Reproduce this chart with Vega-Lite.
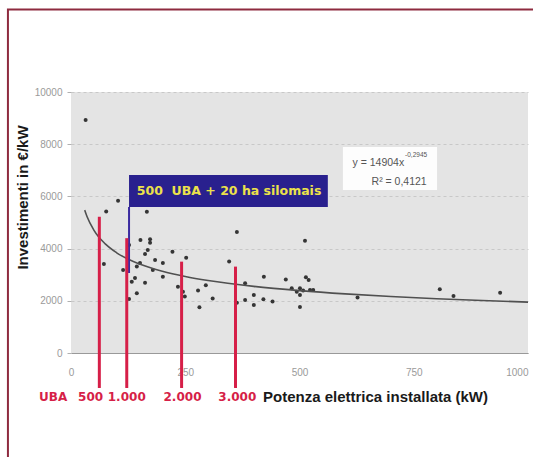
{
  "$schema": "https://vega.github.io/schema/vega-lite/v6.json",
  "width": 457,
  "height": 261,
  "autosize": {"type": "none"},
  "padding": {"left": 71, "top": 92, "right": 5, "bottom": 104},
  "background": "white",
  "config": {
    "view": {"fill": "#e4e4e4", "stroke": null},
    "font": "Liberation Sans"
  },
  "datasets": {
    "frame": [{"x": -138, "x2": 1200, "y": 13160, "y2": -6000}],
    "points": [
      {"x": 32, "y": 8930}, {"x": 77, "y": 5420}, {"x": 103, "y": 5830}, {"x": 166, "y": 5410},
      {"x": 127, "y": 4140}, {"x": 152, "y": 4330}, {"x": 173, "y": 4360}, {"x": 173, "y": 4220},
      {"x": 168, "y": 3950}, {"x": 162, "y": 3790}, {"x": 222, "y": 3880}, {"x": 252, "y": 3650},
      {"x": 184, "y": 3560}, {"x": 151, "y": 3450}, {"x": 201, "y": 3450}, {"x": 179, "y": 3180},
      {"x": 144, "y": 3310}, {"x": 114, "y": 3180}, {"x": 72, "y": 3410}, {"x": 201, "y": 2925},
      {"x": 140, "y": 2870}, {"x": 133, "y": 2730}, {"x": 162, "y": 2690}, {"x": 234, "y": 2540},
      {"x": 245, "y": 2350}, {"x": 249, "y": 2160}, {"x": 144, "y": 2290}, {"x": 127, "y": 2070},
      {"x": 278, "y": 2390}, {"x": 363, "y": 4640}, {"x": 512, "y": 4300}, {"x": 346, "y": 3510},
      {"x": 422, "y": 2925}, {"x": 470, "y": 2820}, {"x": 514, "y": 2900}, {"x": 520, "y": 2800},
      {"x": 381, "y": 2670}, {"x": 295, "y": 2600}, {"x": 310, "y": 2090}, {"x": 281, "y": 1750},
      {"x": 400, "y": 2220}, {"x": 381, "y": 2030}, {"x": 400, "y": 1840}, {"x": 421, "y": 2055},
      {"x": 441, "y": 1970}, {"x": 483, "y": 2480}, {"x": 501, "y": 2480}, {"x": 508, "y": 2390},
      {"x": 501, "y": 2220}, {"x": 523, "y": 2410}, {"x": 494, "y": 2350}, {"x": 501, "y": 1760},
      {"x": 627, "y": 2130}, {"x": 807, "y": 2440}, {"x": 837, "y": 2180}, {"x": 939, "y": 2310},
      {"x": 363, "y": 1930}, {"x": 530, "y": 2410}
    ],
    "curve": [
      {"x": 30, "y": 5474}, {"x": 35, "y": 5231}, {"x": 50, "y": 4710}, {"x": 75, "y": 4179},
      {"x": 100, "y": 3839}, {"x": 150, "y": 3407}, {"x": 200, "y": 3131}, {"x": 250, "y": 2932},
      {"x": 300, "y": 2778}, {"x": 400, "y": 2553}, {"x": 500, "y": 2391}, {"x": 600, "y": 2265},
      {"x": 700, "y": 2165}, {"x": 800, "y": 2081}, {"x": 900, "y": 2010}, {"x": 1000, "y": 1950}
    ],
    "redlines": [
      {"x": 62, "y": 5220, "y2": -1340}, {"x": 122, "y": 4400, "y2": -1340},
      {"x": 242, "y": 3500, "y2": -1340}, {"x": 360, "y": 3310, "y2": -1340}
    ],
    "redlabels": [
      {"x": -39, "y": -1674, "label": "UBA"}, {"x": 43, "y": -1674, "label": "500"},
      {"x": 122, "y": -1674, "label": "1.000"}, {"x": 244, "y": -1674, "label": "2.000"},
      {"x": 364, "y": -1674, "label": "3.000"}
    ],
    "blueline": [{"x": 127, "y": 5594, "y2": 3065}],
    "bluebox": [{"x": 127, "x2": 562, "y": 6820, "y2": 5594}],
    "boxtext": [{"x": 144, "y": 6207, "label": "500\u00a0\u00a0UBA + 20 ha silomais"}],
    "eqbox": [{"x": 595, "x2": 801, "y": 7893, "y2": 6245}],
    "eqline1": [{"x": 729, "y": 7280, "label": "y = 14904x"}],
    "eqsup": [{"x": 731, "y": 7586, "label": "-0,2945"}],
    "eqline2": [{"x": 718, "y": 6552, "label": "R² = 0,4121"}]
  },
  "encoding": {
    "x": {
      "field": "x", "type": "quantitative",
      "scale": {"domain": [0, 1000], "nice": false, "zero": false},
      "axis": {
        "values": [0, 250, 500, 750, 1000],
        "format": "d",
        "title": "Potenza elettrica installata (kW)",
        "titleFont": "Liberation Sans", "titleFontSize": 15, "titleFontWeight": "bold", "titleColor": "#1a1a1a",
        "titleX": 304, "titleY": 43, "titleBaseline": "middle", "titleAlign": "center", "titleAnchor": null,
        "labelFont": "Liberation Sans", "labelFontSize": 10, "labelColor": "#9a9a9a",
        "labelPadding": 14, "ticks": false, "grid": false,
        "labelAlign": {"condition": {"test": "datum.value == 1000", "value": "right"}, "value": "center"},
        "labelFlush": false,
        "domainColor": "#999999"
      }
    },
    "y": {
      "field": "y", "type": "quantitative",
      "scale": {"domain": [0, 10000], "nice": false, "zero": false},
      "axis": {
        "values": [0, 2000, 4000, 6000, 8000, 10000],
        "format": "d",
        "title": "Investimenti in €/kW",
        "titleFont": "Liberation Sans", "titleFontSize": 15, "titleFontWeight": "bold", "titleColor": "#1a1a1a",
        "titleX": -49, "titleY": 105, "titleAngle": -90, "titleBaseline": "middle", "titleAlign": "center", "titleAnchor": null,
        "labelFont": "Liberation Sans", "labelFontSize": 10, "labelColor": "#9a9a9a",
        "labelPadding": 5, "tickSize": 4, "tickColor": "#b0b0b0",
        "domain": false, "grid": true, "gridColor": "#c8c8c8", "gridDash": [3, 3], "gridWidth": 1
      }
    }
  },
  "layer": [
    {
      "data": {"name": "frame"},
      "mark": {"type": "rect", "fill": null, "stroke": "#8e2b3f", "strokeWidth": 2},
      "encoding": {"x2": {"field": "x2"}, "y2": {"field": "y2"}}
    },
    {
      "data": {"name": "points"},
      "mark": {"type": "circle", "color": "#353535", "size": 16, "opacity": 1}
    },
    {
      "data": {"name": "curve"},
      "mark": {"type": "line", "color": "#505050", "strokeWidth": 1.6, "interpolate": "monotone"}
    },
    {
      "data": {"name": "eqbox"},
      "mark": {"type": "rect", "fill": "#ffffff", "opacity": 0.92},
      "encoding": {"x2": {"field": "x2"}, "y2": {"field": "y2"}}
    },
    {
      "data": {"name": "eqline1"},
      "mark": {"type": "text", "align": "right", "baseline": "middle", "font": "Liberation Sans", "fontSize": 10.5, "color": "#555555"},
      "encoding": {"text": {"field": "label"}}
    },
    {
      "data": {"name": "eqsup"},
      "mark": {"type": "text", "align": "left", "baseline": "middle", "font": "Liberation Sans", "fontSize": 6.5, "color": "#555555"},
      "encoding": {"text": {"field": "label"}}
    },
    {
      "data": {"name": "eqline2"},
      "mark": {"type": "text", "align": "center", "baseline": "middle", "font": "Liberation Sans", "fontSize": 10.5, "color": "#555555"},
      "encoding": {"text": {"field": "label"}}
    },
    {
      "data": {"name": "blueline"},
      "mark": {"type": "rule", "color": "#3a2aa0", "strokeWidth": 2},
      "encoding": {"y2": {"field": "y2"}}
    },
    {
      "data": {"name": "redlines"},
      "mark": {"type": "rule", "color": "#d61f48", "strokeWidth": 3},
      "encoding": {"y2": {"field": "y2"}}
    },
    {
      "data": {"name": "bluebox"},
      "mark": {"type": "rect", "fill": "#29208e"},
      "encoding": {"x2": {"field": "x2"}, "y2": {"field": "y2"}}
    },
    {
      "data": {"name": "boxtext"},
      "mark": {"type": "text", "align": "left", "baseline": "middle", "font": "DejaVu Sans", "fontWeight": "bold", "fontSize": 12.5, "color": "#ece24a"},
      "encoding": {"text": {"field": "label"}}
    },
    {
      "data": {"name": "redlabels"},
      "mark": {"type": "text", "align": "center", "baseline": "middle", "font": "DejaVu Sans", "fontWeight": "bold", "fontSize": 12, "color": "#d61f48"},
      "encoding": {"text": {"field": "label"}}
    }
  ]
}
